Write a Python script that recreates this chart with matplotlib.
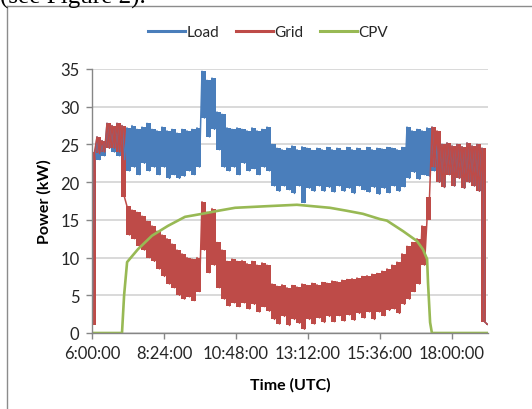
import numpy as np
import matplotlib
matplotlib.use("Agg")
import matplotlib.pyplot as plt
from matplotlib.lines import Line2D

plt.rcParams['font.family'] = ['Lato', 'DejaVu Sans']

# 10-minute slots starting at 6:00 (hours), each with the upper and lower
# value of the noisy trace
slot_hours = 6.0 + np.arange(80) / 6.0

load_hi = [1, 26, 25.5, 27.8, 27.5, 27.8, 27.5, 27.2, 27.5, 27.0,
           27.3, 27.8, 27.0, 26.8, 27.3, 26.8, 27.0, 26.5, 27.0, 26.8,
           27.0, 27.2, 34.7, 33.5, 33.8, 29.3, 29.0, 27.2, 27.0, 27.2,
           27.0, 26.8, 27.2, 26.8, 27.0, 27.3, 25.0, 24.5, 24.3, 24.5,
           24.8, 24.3, 24.7, 24.5, 24.2, 24.5, 24.3, 24.6, 24.3, 24.5,
           24.2, 24.6, 24.3, 24.5, 24.2, 24.6, 24.3, 24.5, 24.4, 24.6,
           24.5, 24.3, 24.6, 27.3, 26.8, 27.0, 26.8, 27.2, 27.3, 25.3,
           25.0, 25.2, 24.8, 25.0, 24.7, 25.2, 24.8, 25.0, 24.5, 1.2]
load_lo = [23, 23, 23.5, 24.5, 24, 23.5, 23, 21.5, 22, 21,
           22.5, 21.5, 22, 21, 22, 20.5, 21, 20.5, 20.8, 21.5,
           21, 22, 28.5, 26, 27, 24.3, 22, 21.5, 22, 21,
           22.5, 21.5, 21.8, 21, 22, 21.5, 19.5, 18.8, 19.5, 19,
           18.5, 19.5, 17.3, 19.2, 18.8, 19.5, 18.8, 19.3, 18.7, 19.5,
           18.8, 19.2, 18.5, 19.5, 19, 18.7, 19.3, 18.4, 19.2, 18.6,
           19.5, 18.8, 19.4, 20.5, 21.3, 20.4, 21.0, 20.8, 21.5, 20,
           19.3, 21, 19.5, 20.5, 19.2, 20, 19.5, 18.8, 1.5, 1.0]

grid_hi = [1, 26, 25.5, 27.8, 27.5, 27.8, 27.5, 16.8, 16.3, 16.0,
           15.5, 14.8, 14.2, 13.5, 13.0, 12.5, 11.8, 11.0, 10.5, 10.0,
           9.8, 10.0, 17.4, 16.0, 16.5, 12.0, 11.0, 9.5, 9.8, 9.5,
           9.6, 9.2, 9.5, 9.0, 9.3, 9.0, 6.5, 6.2, 6.4, 6.0,
           6.3, 6.1, 6.5, 6.3, 6.6, 6.4, 6.7, 6.6, 6.9, 6.8,
           7.0, 7.1, 7.2, 7.3, 7.5, 7.6, 7.8, 7.9, 8.2, 8.5,
           9.0, 9.4, 10.5, 11.5, 12.0, 12.5, 14.2, 15.0, 27.3, 26.8,
           25.0, 25.2, 24.8, 25.0, 24.7, 25.2, 24.8, 25.0, 24.5, 1.2]
grid_lo = [24, 23.8, 24, 24.5, 24.5, 24, 18, 13, 12.5, 11.5,
           11, 10, 9.5, 8.5, 7.5, 6.5, 6, 5, 4.5, 4.8,
           4.3, 5.5, 11, 8, 9, 6, 4.5, 3.6, 4, 3.5,
           4, 3.2, 3.8, 2.8, 3.5, 2.9, 1.8, 1.2, 2.2, 1.0,
           1.8, 1.3, 0.5, 1.8, 1.2, 2.0, 1.4, 2.2, 1.5, 2.3,
           1.6, 2.4, 1.7, 2.6, 2.0, 2.8, 1.8, 2.8, 2.3, 3.0,
           3.2, 2.6, 3.8, 4.5, 5.5, 6.5, 9.0, 18.0, 22.0, 20.0,
           19.3, 21.0, 19.5, 20.5, 19.2, 20.0, 19.5, 18.8, 1.5, 1.0]

cpv_hours = [6.0, 7.0, 7.07, 7.17, 7.53, 8.0, 8.53, 9.1, 9.67, 10.2, 10.77,
             11.77, 12.83, 13.93, 14.5, 15.03, 15.6, 15.83, 16.37, 16.83,
             17.03, 17.17, 17.2, 17.27, 17.33, 19.2]
cpv = [0, 0, 5.0, 9.4, 11.1, 12.9, 14.2, 15.4, 15.8, 16.2, 16.6,
       16.8, 17.0, 16.6, 16.2, 15.8, 15.1, 14.9, 13.5, 12.2,
       11.1, 9.8, 6.7, 1.4, 0, 0]

xtick_hours = [6.0, 8.4, 10.8, 13.2, 15.6, 18.0]
xtick_labels = ['6:00:00', '8:24:00', '10:48:00', '13:12:00', '15:36:00', '18:00:00']

c_load = '#4A7EBB'
c_grid = '#BE4B48'
c_cpv = '#98B954'


def noisy_trace(ax, hi, lo, color):
    # solid band between the envelopes, zigzag on top for the spikes
    t = np.column_stack([slot_hours, slot_hours + 5 / 60.0]).ravel()
    v = np.column_stack([hi, lo]).ravel()
    ax.fill_between(slot_hours + 2.5 / 60.0, hi, lo, step='mid', color=color, lw=0)
    ax.plot(t, v, color=color, lw=1.1)


fig = plt.figure(figsize=(5.32, 4.10), dpi=100)
ax = fig.add_axes([92 / 532, 76 / 410, 396 / 532, 264 / 410])

noisy_trace(ax, load_hi, load_lo, c_load)
noisy_trace(ax, grid_hi, grid_lo, c_grid)
ax.plot(cpv_hours, cpv, color=c_cpv, lw=1.9)

ax.set_xlim(6.0, 19.2)
ax.set_ylim(0, 35)
ax.set_yticks(range(0, 36, 5))
ax.set_xticks(xtick_hours)
ax.set_xticklabels(xtick_labels)
ax.grid(axis='y', color='#D0D0D0', lw=1.1)
ax.set_axisbelow(True)
for s in ['top', 'right']:
    ax.spines[s].set_visible(False)
for s in ['left', 'bottom']:
    ax.spines[s].set_color('#868686')
    ax.spines[s].set_linewidth(1.0)
ax.tick_params(direction='out', length=4, width=1.0, color='#868686',
               labelsize=12, labelcolor='#262626', pad=5)

ax.set_xlabel('Time (UTC)', fontsize=11.5, fontweight='bold', labelpad=11)
ax.set_ylabel('Power (kW)', fontsize=11.5, fontweight='bold', labelpad=6)

handles = [Line2D([], [], color=c, lw=2.2) for c in (c_load, c_grid, c_cpv)]
fig.legend(handles, ['Load', 'Grid', 'CPV'], loc='center', ncol=3,
           bbox_to_anchor=(268 / 532, 1 - 33 / 410), frameon=False,
           fontsize=11, handlelength=2.4, handletextpad=0.1,
           columnspacing=1.1, labelcolor='#262626')

# chart frame and the clipped caption line above it
fig.add_artist(Line2D([7 / 532, 7 / 532], [0, 1 - 7 / 410], color='#8C8C8C', lw=1.0))
fig.add_artist(Line2D([7 / 532, 1], [1 - 7 / 410, 1 - 7 / 410], color='#8C8C8C', lw=1.0))
fig.text(0.0, 1 - 4 / 410, '(see Figure 2).', family='Liberation Serif',
         fontsize=18, va='baseline', ha='left', color='black')

fig.savefig('out.png', dpi=100)
